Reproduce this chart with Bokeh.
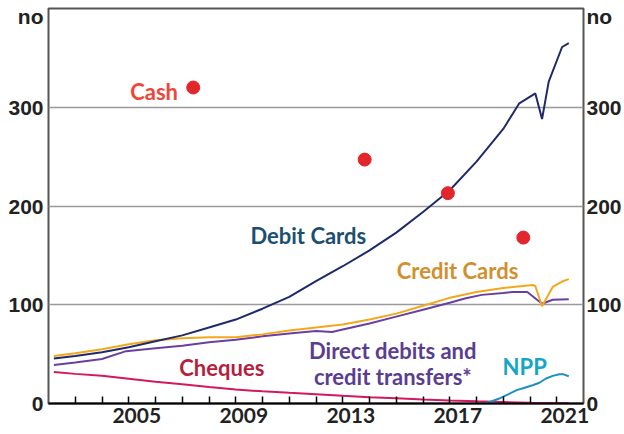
from bokeh.plotting import figure
from bokeh.models import Range1d, FixedTicker, LinearAxis, Label
from bokeh.embed import file_html
from bokeh.resources import INLINE

# ---- data ----
debit_x = [2002.2, 2003, 2004, 2005, 2006, 2007, 2008, 2009, 2010, 2011, 2012, 2013, 2014,
           2015, 2016, 2017, 2018, 2019, 2019.6, 2020.2, 2020.45, 2020.7, 2021.2, 2021.45]
debit_y = [45.5, 48, 52, 57, 63, 69, 77, 85, 96, 108, 124, 139, 155,
           173, 194, 216, 245, 278, 304, 314, 288, 326, 361, 365]

credit_x = [2002.2, 2003, 2004, 2005, 2006, 2007, 2008, 2009, 2010, 2011, 2012, 2013, 2014,
            2015, 2016, 2017, 2018, 2019, 2020.1, 2020.2, 2020.45, 2020.85, 2021.2, 2021.45]
credit_y = [48, 51, 55, 60, 64, 66, 67, 67, 70, 74, 77, 80, 85,
            91, 99, 107, 113, 117, 120, 119, 98.5, 118, 123.5, 126]

dd_x = [2002.2, 2003, 2004, 2004.9, 2006, 2007, 2008, 2009, 2010, 2011, 2012, 2012.6, 2013,
        2014, 2015, 2016, 2017, 2017.6, 2018.2, 2019, 2019.35, 2019.9, 2020.45, 2020.85, 2021.45]
dd_y = [39, 41.5, 45, 53, 56, 58.5, 62, 64.5, 68, 71, 73.5, 72.5, 75,
        81, 88, 95, 102, 106.5, 110, 112, 113, 113, 101, 105, 105.5]

cheque_x = [2002.2, 2003, 2004, 2005, 2006, 2007, 2008, 2009, 2010, 2011, 2012, 2013, 2014,
            2015, 2016, 2017, 2018, 2019, 2020, 2021.45]
cheque_y = [32, 30, 28, 25, 22, 19.5, 16.8, 14.2, 12.3, 10.8, 9.4, 7.8, 6.4,
            5.2, 4, 3, 2.2, 1.5, 0.8, 0.4]

npp_x = [2018.2, 2018.5, 2018.85, 2019.2, 2019.5, 2019.8, 2020.1, 2020.35, 2020.6, 2020.85,
         2021.1, 2021.25, 2021.45]
npp_y = [0, 1.5, 5, 9.5, 13.5, 16, 18.5, 21, 25.3, 28, 29.7, 29.5, 27.6]

cash_x = [2007.41, 2013.82, 2016.93, 2019.75]
cash_y = [320, 247, 213, 168]

y_ticks = [0, 100, 200, 300, 392]
y_labels = ["0", "100", "200", "300", "no"]
year_labels = [2005, 2009, 2013, 2017, 2021]
minor_years = list(range(2003, 2022))

# ---- figure ----
p = figure(frame_width=535, frame_height=395, output_backend="svg", toolbar_location=None,
           x_range=Range1d(2002, 2022), y_range=Range1d(0, 400),
           min_border_left=48, min_border_right=30, min_border_top=8, min_border_bottom=20,
           x_axis_location=None, y_axis_location=None)
p.background_fill_color = "white"
p.border_fill_color = "white"
p.outline_line_color = "#555555"
p.outline_line_width = 2
p.xgrid.visible = False
p.ygrid.ticker = FixedTicker(ticks=[100, 200, 300])
p.ygrid.grid_line_color = "#9a9a9a"
p.ygrid.grid_line_width = 1.5

overrides = {t: l for t, l in zip(y_ticks, y_labels)}
for side, standoff in (("left", 5), ("right", 3)):
    ax = LinearAxis(ticker=FixedTicker(ticks=y_ticks), major_label_overrides=overrides)
    ax.axis_line_color = None
    ax.major_tick_line_color = None
    ax.major_tick_in = 0
    ax.major_tick_out = 0
    ax.minor_tick_line_color = None
    ax.minor_tick_in = 0
    ax.minor_tick_out = 0
    ax.major_label_standoff = standoff
    ax.major_label_text_font = "Liberation Sans"
    ax.major_label_text_font_style = "bold"
    ax.major_label_text_font_size = "21px"
    ax.major_label_text_color = "#222222"
    p.add_layout(ax, side)

xticks = [y + 0.3 for y in year_labels]
xax = LinearAxis(ticker=FixedTicker(ticks=xticks, minor_ticks=minor_years),
                 major_label_overrides={t: str(y) for t, y in zip(xticks, year_labels)})
xax.axis_line_color = "black"
xax.axis_line_width = 2
xax.major_tick_line_color = None
xax.major_tick_in = 0
xax.major_tick_out = 0
xax.minor_tick_in = 7
xax.minor_tick_out = 0
xax.minor_tick_line_color = "black"
xax.minor_tick_line_width = 1.5
xax.major_label_standoff = 4
xax.major_label_text_font = "Lato"
xax.major_label_text_font_style = "bold"
xax.major_label_text_font_size = "21px"
xax.major_label_text_color = "#222222"
p.add_layout(xax, "below")

# ---- series ----
p.line(cheque_x, cheque_y, line_color="#d2185e", line_width=2)
p.line(npp_x, npp_y, line_color="#1e8fbf", line_width=2)
p.line(dd_x, dd_y, line_color="#6a3fa0", line_width=2)
p.line(credit_x, credit_y, line_color="#f2a81d", line_width=2)
p.line(debit_x, debit_y, line_color="#1f2a6b", line_width=2)
p.scatter(cash_x, cash_y, size=13, fill_color="#e3262b", line_color="#e3262b")

def lab(x, y, text, color, align="left"):
    p.add_layout(Label(x=x, y=y, text=text, text_color=color, text_font="Lato",
                       text_font_style="bold", text_font_size="22px",
                       text_align=align, text_baseline="middle"))

lab(2006.84, 315.7, "Cash", "#f0453a", "right")
lab(2009.55, 169.7, "Debit Cards", "#1b4f72")
lab(2015.02, 134.3, "Credit Cards", "#d18f2d")
lab(2006.89, 36.5, "Cheques", "#b51f3d")
lab(2014.87, 54, "Direct debits and", "#5a3d91", "center")
lab(2014.87, 27.6, "credit transfers*", "#5a3d91", "center")
lab(2019.8, 37.8, "NPP", "#14a5c7", "center")

open("out.html", "w").write(file_html(p, INLINE))
